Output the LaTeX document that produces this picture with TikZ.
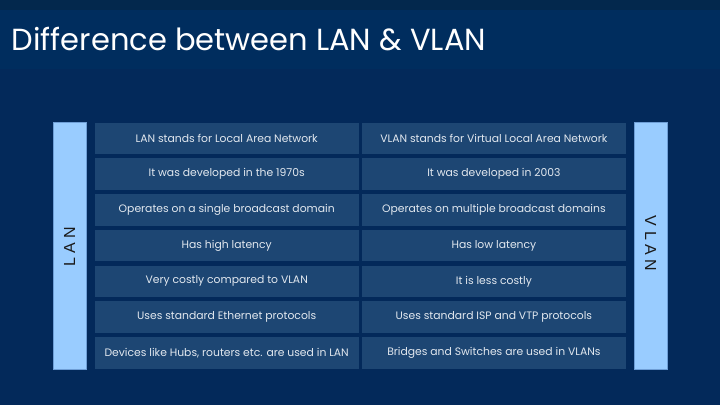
\documentclass[tikz,border=0pt]{standalone}
\usepackage{fontspec}
\setmainfont{Poppins}
\newfontfamily\barfont{Liberation Sans}
\definecolor{bgnavy}{HTML}{03295A}
\definecolor{topstrip}{HTML}{03284D}
\definecolor{titleband}{HTML}{002D5E}
\definecolor{cellblue}{HTML}{1D4673}
\definecolor{barblue}{HTML}{99CCFF}
\definecolor{baredge}{HTML}{6E9ED6}
\definecolor{celltext}{HTML}{E2E8EF}
\definecolor{bartext}{HTML}{1A1A1A}
\tikzset{
  cell/.style={fill=cellblue, draw=none, minimum width=264pt, minimum height=31.6pt, inner sep=0pt,
    text=celltext, font=\fontsize{10.8}{12}\selectfont, anchor=north west},
  sidebar/.style={fill=barblue, draw=baredge, line width=0.5pt, minimum width=33pt, minimum height=246.4pt, inner sep=0pt, anchor=north west},
  barlabel/.style={text=bartext, font=\barfont\fontsize{16}{18}\selectfont},
}
\newcommand{\spc}{\hspace{4.5pt}}
\begin{document}
\begin{tikzpicture}[x=1pt,y=-1pt]
\useasboundingbox (0,0) rectangle (720,405);
\fill[bgnavy] (0,0) rectangle (720,405);
\fill[topstrip] (0,0) rectangle (720,9.5);
\fill[titleband] (0,9.5) rectangle (720,69);
\node[anchor=base west, text=white, font=\fontsize{30.5}{34}\selectfont, inner sep=0pt] (title) at (11.5,50) {Difference between LAN \& VLAN};
\node[sidebar] (lanbar) at (53.3,122.3) {};
\node[sidebar] (vlanbar) at (634.3,122.3) {};
\node[barlabel, rotate=90] (lanlabel) at (69.5,246.5) {L\spc A\spc N};
\node[barlabel, rotate=-90] (vlanlabel) at (650.5,243.5) {V\spc L\spc A\spc N};
\foreach \i/\l/\r in {
 0/{LAN stands for Local Area Network}/{VLAN stands for Virtual Local Area Network},
 1/{It was developed in the 1970s}/{It was developed in 2003},
 2/{Operates on a single broadcast domain}/{Operates on multiple broadcast domains},
 3/{Has high latency}/{Has low latency},
 4/{Very costly compared to VLAN}/{It is less costly},
 5/{Uses standard Ethernet protocols}/{Uses standard ISP and VTP protocols},
 6/{Devices like Hubs, routers etc. are used in LAN}/{Bridges and Switches are used in VLANs}} {
  \node[cell] (l\i) at (94.5,122.3+35.75*\i) {\l};
  \node[cell] (r\i) at (361.7,122.3+35.75*\i) {\r};
}
\end{tikzpicture}
\end{document}
